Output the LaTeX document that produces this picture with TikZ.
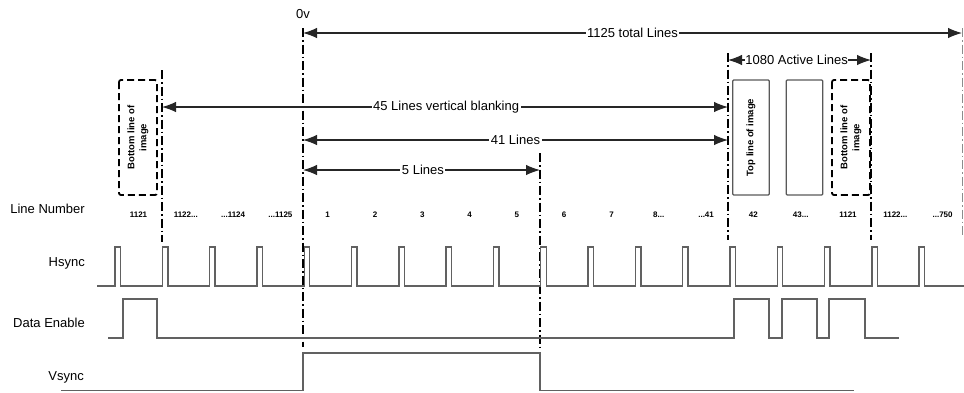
\documentclass[tikz,border=0pt]{standalone}
\usepackage{fontspec}
\setmainfont{Liberation Sans}
\usetikzlibrary{arrows.meta}
\newcommand{\lnDots}{...}
\begin{document}
\begin{tikzpicture}[x=1pt,y=-1pt,
  wave/.style={draw=black!62, line width=1.4pt, line join=miter},
  dimarrow/.style={draw=black!85, line width=1.1pt, {Latex[length=14pt,width=10.5pt]}-{Latex[length=14pt,width=10.5pt]}},
  dashdotline/.style={line width=1.6pt, dash pattern=on 9pt off 3pt on 1.5pt off 3pt},
  lbl/.style={font=\fontsize{13}{15}\selectfont, fill=white, inner sep=1.5pt},
  sig/.style={font=\fontsize{13}{15}\selectfont, anchor=east, inner sep=0pt},
  num/.style={font=\bfseries\fontsize{8}{9}\selectfont, inner sep=0pt},
  dbox/.style={draw, line width=1.8pt, dash pattern=on 7pt off 4pt, rounded corners=2pt,
    rotate=90, minimum width=115pt, minimum height=38pt, align=center, inner sep=0pt,
    font=\bfseries\fontsize{9.5}{12}\selectfont},
  sbox/.style={draw=black!65, line width=1.2pt, rounded corners=1pt,
    rotate=90, minimum width=115pt, minimum height=36.5pt, align=center, inner sep=0pt,
    font=\bfseries\fontsize{9.5}{12}\selectfont}
]
\useasboundingbox (0,0) rectangle (964,392);

% signal labels
\node[sig] (lnum) at (85,209) {Line Number};
\node[sig] (lhs) at (85,263) {Hsync};
\node[sig] (lde) at (85,323) {Data Enable};
\node[sig] (lvs) at (84,377) {Vsync};
\node[font=\fontsize{13}{15}\selectfont, inner sep=0pt] (zero) at (303,14) {0v};

% line numbers
\foreach \t [count=\i from 0] in {1121,1122\lnDots,\lnDots1124,\lnDots1125,1,2,3,4,5,6,7,8\lnDots,\lnDots41,42,43\lnDots,1121,1122\lnDots,\lnDots750}
  \node[num] (n\i) at ({115+47.3*\i+23.5},215) {\t};

% boxes
\node[dbox] (bl1) at (138,137.5) {Bottom line of\\image};
\node[sbox] (tl) at (751,137.5) {Top line of image};
\node[sbox] (mid) at (804.5,137.5) {};
\node[dbox] (bl2) at (851,137.5) {Bottom line of\\image};

% dash-dot marker lines
\coordinate (a1t) at (162,70);   \coordinate (a1b) at (162,242);
\coordinate (a2t) at (303,28);   \coordinate (a2b) at (303,347);
\coordinate (a3t) at (540,153);  \coordinate (a3b) at (540,347);
\coordinate (a4t) at (728,53);   \coordinate (a4b) at (728,240);
\coordinate (a5t) at (871,53);   \coordinate (a5b) at (871,240);
\coordinate (a6t) at (962.5,28); \coordinate (a6b) at (962.5,236);
\draw[dashdotline] (a1t) -- (a1b);
\draw[dashdotline] (a2t) -- (a2b);
\draw[dashdotline] (a3t) -- (a3b);
\draw[dashdotline] (a4t) -- (a4b);
\draw[dashdotline] (a5t) -- (a5b);
\draw[dashdotline, black!45] (a6t) -- (a6b);

% dimension arrows
\coordinate (t1) at (303,33);  \coordinate (t2) at (962,33);
\coordinate (v1) at (162,107); \coordinate (v2) at (728,107);
\coordinate (f1) at (303,140); \coordinate (f2) at (728,140);
\coordinate (s1) at (303,170); \coordinate (s2) at (540,170);
\coordinate (c1) at (728,60);  \coordinate (c2) at (871,60);
\draw[dimarrow] (t1) -- (t2) node[lbl, pos=0.5] {1125 total Lines};
\draw[dimarrow] (v1) -- (v2) node[lbl, pos=0.502] {45 Lines vertical blanking};
\draw[dimarrow] (f1) -- (f2) node[lbl, pos=0.5] {41 Lines};
\draw[dimarrow] (s1) -- (s2) node[lbl, pos=0.506] {5 Lines};
\draw[dimarrow] (c1) -- (c2) node[lbl, pos=0.48, inner sep=0pt] {1080 Active Lines};

% waveforms
\draw[wave] (97,286) foreach \k in {0,...,17} { -- ({115+47.3*\k},286) -- ++(0,-39) -- ++(5.5,0) -- ++(0,39) } -- (964,286);
\draw[wave] (108,338) -| (123,299) -| (157,338) -| (734,299) -| (769,338) -| (782,299) -| (817,338) -| (829,299) -| (865,338) -- (899,338);
\draw[wave] (61,390.5) -| (303,353) -| (540,390.5) -- (854,390.5);
\end{tikzpicture}
\end{document}
